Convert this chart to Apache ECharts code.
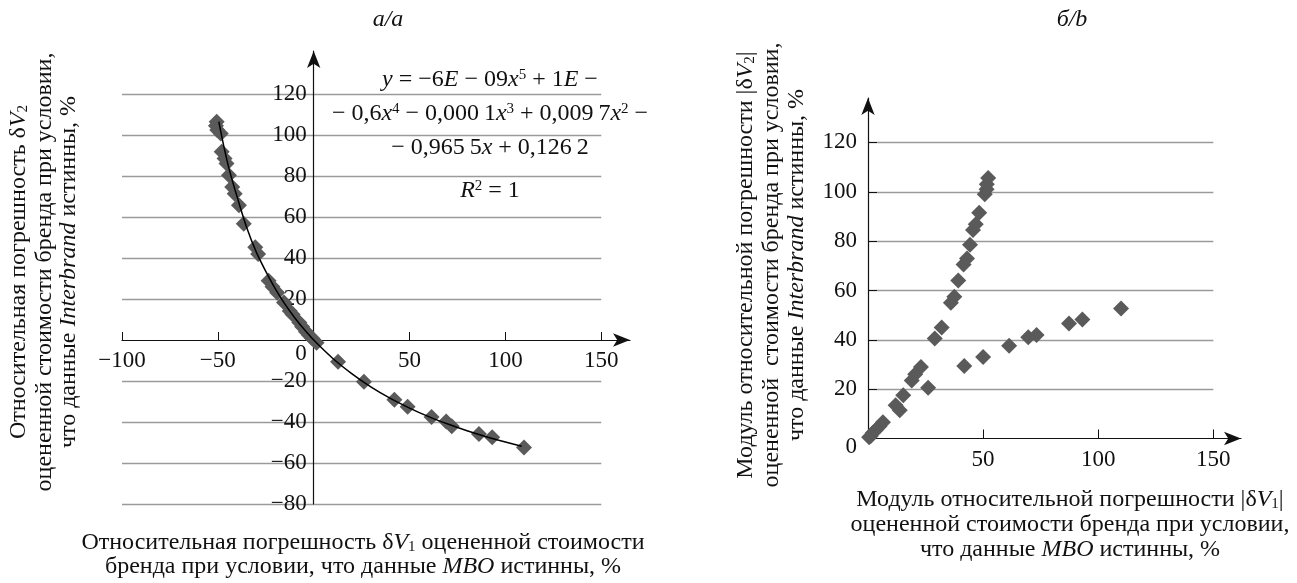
<!DOCTYPE html>
<html lang="ru">
<head>
<meta charset="UTF-8">
<title>Относительные погрешности оценки стоимости бренда</title>
<script src="https://cdn.jsdelivr.net/npm/echarts@6/dist/echarts.min.js"></script>
<style>
    html, body { margin: 0; padding: 0; background: #ffffff; }
    #chart { width: 1297px; height: 583px; }
</style>
</head>
<body>
<div id="chart"></div>
<script>
    // chart a: dV1 vs dV2 (signed)
    const leftPoints = [
        [-50.6, 106.5], [-51, 104.5], [-50.3, 102.4], [-48.5, 100.8], [-48, 91.9],
        [-46.5, 88.6], [-45.5, 86.1], [-44.2, 80.4], [-42.5, 74.7], [-41.2, 71.4],
        [-39, 65.7], [-36.5, 56.7], [-30.5, 45.3], [-29, 42], [-23.5, 28.9],
        [-21.5, 26], [-19, 23], [-15.5, 18.3], [-12.5, 14.2], [-11, 12.5],
        [-7.5, 8.5], [-6, 6.5], [-4, 4], [-2.5, 2.5], [-1, 1], [1.5, -1.3],
        [12.7, -10.6], [26.2, -20.4], [42.1, -29.1], [49, -32.6], [61.5, -37.5],
        [69.1, -39.7], [72, -42.1], [86.2, -45.9], [93.1, -47.4], [109.7, -52.4]
    ];
    // trend line as drawn in chart a
    const fitCurve = [
        [-49.5, 106.5], [-47, 95], [-44, 83], [-40, 70], [-35, 55], [-30, 43],
        [-25, 33.5], [-20, 25], [-15, 17.5], [-10, 11], [-5, 5.2], [0, 0],
        [10, -9], [20, -16.5], [30, -23], [40, -28.5], [50, -33.2], [60, -37.4],
        [70, -41], [80, -44.3], [90, -47.2], [100, -49.8], [108.5, -51.8]
    ];
    // chart b: |dV1| vs |dV2|
    const rightPoints = [
        [0.5, 0.5], [2, 2.2], [3.5, 3.5], [5, 5], [6.5, 6.6], [12, 13.5],
        [15.3, 17.5], [19, 23.5], [20.5, 26], [23, 29], [29, 40.5], [32, 45],
        [36, 55], [37.5, 57.5], [39.2, 64], [41.5, 70.5], [43, 73], [44.3, 78.5],
        [45.6, 84.5], [46.8, 86.8], [48.3, 91.5], [50.7, 99], [51.5, 101],
        [51.6, 103], [52.2, 105.6],
        [1.2, 1], [13.8, 11.4], [26.1, 20.6], [41.8, 29.4], [50, 33], [61.3, 37.6],
        [69.6, 41], [73.2, 41.9], [87.3, 46.6], [93.1, 48.2], [109.9, 52.7]
    ];

    const leftXTicks = [-100, -50, 0, 50, 100, 150];
    const leftYTicks = [-80, -60, -40, -20, 0, 20, 40, 60, 80, 100, 120];
    const rightXTicks = [50, 100, 150];
    const rightYTicks = [0, 20, 40, 60, 80, 100, 120];

    const equationLines = [
        '{i|y} = \u22126{i|E} \u2212 09{i|x}{sup|5} + 1{i|E} \u2212',
        '\u2212 0,6{i|x}{sup|4} \u2212 0,000\u20091{i|x}{sup|3} + 0,009\u20097{i|x}{sup|2} \u2212',
        '\u2212 0,965\u20095{i|x} + 0,126\u20092',
        '{i|R}{sup|2} = 1'
    ];
    const leftYName = [
        'Относительная погрешность δ{i|V}{sub|2}',
        'оцененной стоимости бренда при условии,',
        'что данные {i|Interbrand} истинны, %'
    ];
    const leftXName = [
        'Относительная погрешность δ{i|V}{sub|1} оцененной стоимости',
        'бренда при условии, что данные {i|MBO} истинны, %'
    ];
    const rightYName = [
        'Модуль относительной погрешности |δ{i|V}{sub|2}|',
        'оцененной  стоимости бренда при условии,',
        'что данные {i|Interbrand} истинны, %'
    ];
    const rightXName = [
        'Модуль относительной погрешности |δ{i|V}{sub|1}|',
        'оцененной стоимости бренда при условии,',
        'что данные {i|MBO} истинны, %'
    ];

    const FONT = '"Liberation Serif", "Times New Roman", serif';
    const INK = '#111111';
    const GRID_GRAY = '#9a9a9a';
    const MARK_GRAY = '#5a5a5a';
    const NAME_SIZE = 24;

    // left panel: axes cross at zero, so shift them into the grid
    const leftGrid = { left: 122, top: 51, width: 508, height: 453 };
    const leftX = { min: -100, max: 165 };
    const leftY = { min: -80, max: 141 };
    const xZeroShift = -(0 - leftY.min) / (leftY.max - leftY.min) * leftGrid.height;
    const yZeroShift = -(0 - leftX.min) / (leftX.max - leftX.min) * leftGrid.width;

    function num(v) {
        return v < 0 ? '\u2212' + Math.abs(v) : String(v);
    }

    function rich(size) {
        const small = Math.round(size * 0.62);
        return {
            i: { fontFamily: FONT, fontSize: size, fontStyle: 'italic', fill: INK },
            sub: { fontFamily: FONT, fontSize: small, verticalAlign: 'bottom', fill: INK },
            sup: { fontFamily: FONT, fontSize: small, verticalAlign: 'top', fill: INK }
        };
    }

    function label(text, x, y, size, rotate) {
        return {
            type: 'text',
            x: x,
            y: y,
            rotation: rotate ? Math.PI / 2 : 0,
            silent: true,
            style: {
                text: text,
                fontFamily: FONT,
                fontSize: size,
                fill: INK,
                align: 'center',
                verticalAlign: 'middle',
                textAlign: 'center',
                textVerticalAlign: 'middle',
                rich: rich(size)
            }
        };
    }

    const graphics = [];
    graphics.push(label('{i|a/a}', 388, 20, NAME_SIZE));
    graphics.push(label('{i|б/b}', 1072, 20, NAME_SIZE));
    [80, 114, 148, 191].forEach((y, k) => graphics.push(label(equationLines[k], 490, y, NAME_SIZE)));
    [19, 45, 69].forEach((x, k) => graphics.push(label(leftYName[k], x, 272, NAME_SIZE, true)));
    [543, 567].forEach((y, k) => graphics.push(label(leftXName[k], 363, y, NAME_SIZE)));
    [746, 772, 797].forEach((x, k) => graphics.push(label(rightYName[k], x, 265, NAME_SIZE, true)));
    [500, 525, 550].forEach((y, k) => graphics.push(label(rightXName[k], 1070, y, NAME_SIZE)));

    function gridLines(values, x0, x1) {
        return {
            z: 1,
            silent: true,
            animation: false,
            symbol: ['none', 'none'],
            label: { show: false },
            lineStyle: { color: GRID_GRAY, width: 1.3, type: 'solid' },
            emphasis: { disabled: true },
            data: values.map(v => [{ coord: [x0, v] }, { coord: [x1, v] }])
        };
    }

    const axisFont = { fontFamily: FONT, fontSize: 23, color: INK };
    const axisLine = {
        show: true,
        onZero: false,
        symbol: ['none', 'arrow'],
        symbolSize: [10, 17],
        lineStyle: { color: INK, width: 1.2 }
    };

    const option = {
        animation: false,
        backgroundColor: '#ffffff',
        grid: [
            leftGrid,
            { left: 868, top: 98, width: 373, height: 340.5 }
        ],
        xAxis: [
            {
                gridIndex: 0, type: 'value', min: leftX.min, max: leftX.max, interval: 50, z: 1.5,
                position: 'bottom',
                offset: xZeroShift,
                axisLine: axisLine,
                axisTick: { show: true, inside: true, length: 8, customValues: leftXTicks, lineStyle: { color: INK } },
                axisLabel: Object.assign({}, axisFont, {
                    margin: 9,
                    customValues: leftXTicks.filter(v => v !== 0),
                    formatter: v => (v === 0 || v > 150) ? '' : num(v)
                }),
                splitLine: { show: false }
            },
            {
                gridIndex: 1, type: 'value', min: 0, max: 162, interval: 50, z: 1.5,
                axisLine: axisLine,
                axisTick: { show: true, inside: true, length: 9, customValues: rightXTicks, lineStyle: { color: INK } },
                axisLabel: Object.assign({}, axisFont, {
                    margin: 10,
                    customValues: rightXTicks,
                    formatter: v => (v === 0 || v > 150) ? '' : num(v)
                }),
                splitLine: { show: false }
            }
        ],
        yAxis: [
            {
                gridIndex: 0, type: 'value', min: leftY.min, max: leftY.max, interval: 20, z: 1.5,
                position: 'left',
                offset: yZeroShift,
                axisLine: axisLine,
                axisTick: { show: false },
                axisLabel: Object.assign({}, axisFont, {
                    margin: 7,
                    customValues: leftYTicks,
                    formatter: v => v > 120 ? '' : (v === 0 ? '{z|0}' : num(v)),
                    rich: { z: { fontFamily: FONT, fontSize: 23, color: INK, padding: [28, 0, 0, 0] } }
                }),
                splitLine: { show: false }
            },
            {
                gridIndex: 1, type: 'value', min: 0, max: 138, interval: 20, z: 1.5,
                axisLine: axisLine,
                axisTick: { show: true, inside: true, length: 9, customValues: rightYTicks.filter(v => v > 0), lineStyle: { color: INK } },
                axisLabel: Object.assign({}, axisFont, {
                    margin: 11,
                    customValues: rightYTicks,
                    formatter: v => v > 120 ? '' : (v === 0 ? '{z|0}' : num(v)),
                    rich: { z: { fontFamily: FONT, fontSize: 23, color: INK, padding: [16, 0, 0, 0] } }
                }),
                splitLine: { show: false }
            }
        ],
        series: [
            {
                name: 'a',
                type: 'scatter',
                xAxisIndex: 0, yAxisIndex: 0,
                symbol: 'diamond',
                symbolSize: 16,
                z: 3,
                itemStyle: { color: MARK_GRAY, opacity: 1 },
                data: leftPoints,
                markLine: gridLines(leftYTicks.filter(v => v !== 0), -100, 150)
            },
            {
                name: 'fit',
                type: 'line',
                xAxisIndex: 0, yAxisIndex: 0,
                smooth: 0.3,
                symbol: 'none',
                z: 4,
                lineStyle: { color: '#000000', width: 1.5 },
                data: fitCurve
            },
            {
                name: 'b',
                type: 'scatter',
                xAxisIndex: 1, yAxisIndex: 1,
                symbol: 'diamond',
                symbolSize: 16,
                z: 3,
                itemStyle: { color: MARK_GRAY, opacity: 1 },
                data: rightPoints,
                markLine: gridLines(rightYTicks.filter(v => v !== 0), 0, 150)
            }
        ],
        graphic: graphics
    };

    const chart = echarts.init(document.getElementById('chart'));
    chart.setOption(option);
    window.addEventListener('resize', function () {
        chart.resize();
    });
</script>
</body>
</html>
